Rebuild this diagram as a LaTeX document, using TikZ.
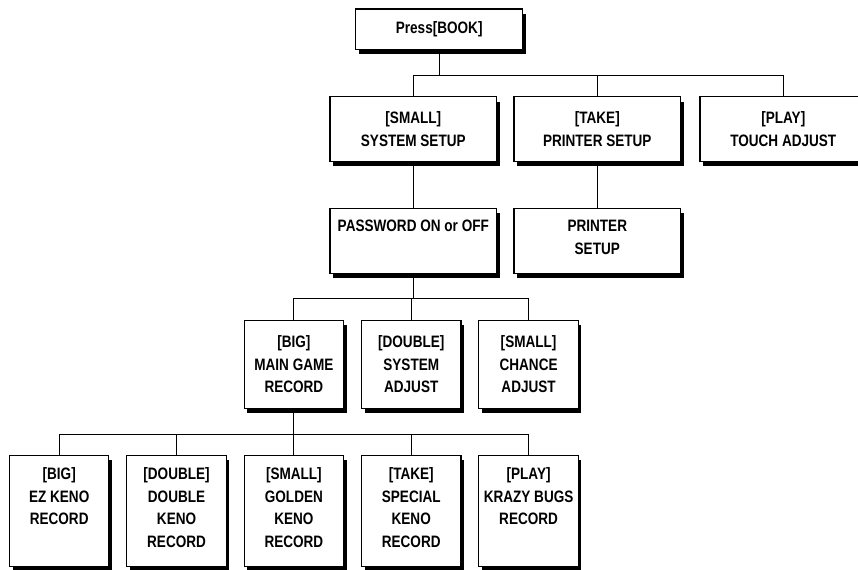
\documentclass[tikz,border=0pt]{standalone}
\usepackage{fontspec}
\newfontfamily\boxfont[FakeStretch=0.82]{Liberation Sans}
\usetikzlibrary{shadows}
\begin{document}
\begin{tikzpicture}[x=0.75pt,y=-0.75pt,
  box/.style={draw, line width=0.8pt, fill=white, outer sep=0pt, inner sep=0pt,
    align=center, font=\boxfont\bfseries\fontsize{12.4}{16.9}\selectfont,
    drop shadow={shadow xshift=2.3pt, shadow yshift=-3.6pt, opacity=1, fill=black}},
  topbox/.style={box, minimum width=125.25pt, minimum height=30.5pt},
  rowtwo/.style={box, minimum width=125pt, minimum height=48.2pt},
  rowthree/.style={box, minimum width=125pt, minimum height=48.75pt},
  rowfour/.style={box, minimum width=74.6pt, minimum height=66.2pt},
  rowfive/.style={box, minimum width=74.6pt, minimum height=83.8pt},
  link/.style={line width=0.8pt}]
\useasboundingbox (0,0) rectangle (858,569);

% nodes
\node[topbox] (press) at (439.2,29.3) {Press[BOOK]};

\node[rowtwo] (sys) at (413.3,128.9) {[SMALL]\\SYSTEM SETUP};
\node[rowtwo] (prt) at (597.3,128.9) {[TAKE]\\PRINTER SETUP};
\node[rowtwo] (tch) at (783.3,128.9) {[PLAY]\\TOUCH ADJUST};

\node[rowthree] (pw) at (413.3,240.8) {PASSWORD ON or OFF\\\strut};
\node[rowthree] (ps) at (597.3,240.8) {PRINTER\\SETUP\strut};

\node[rowfour] (mg) at (293.9,364.2) {[BIG]\\MAIN GAME\\RECORD};
\node[rowfour] (sa) at (411.25,364.2) {[DOUBLE]\\SYSTEM\\ADJUST};
\node[rowfour] (ca) at (528.6,364.2) {[SMALL]\\CHANCE\\ADJUST};

\node[rowfive] (ez) at (59.2,510.9) {[BIG]\\EZ KENO\\RECORD\\\strut};
\node[rowfive] (dk) at (176.55,510.9) {[DOUBLE]\\DOUBLE\\KENO\\RECORD\strut};
\node[rowfive] (gk) at (293.9,510.9) {[SMALL]\\GOLDEN\\KENO\\RECORD\strut};
\node[rowfive] (sk) at (411.25,510.9) {[TAKE]\\SPECIAL\\KENO\\RECORD\strut};
\node[rowfive] (kb) at (528.6,510.9) {[PLAY]\\KRAZY BUGS\\RECORD\\\strut};

% bus coordinates
\coordinate (h1) at (0,75.5);
\coordinate (h2) at (0,298.3);
\coordinate (h3) at (0,434.3);

% connectors
\draw[link] (press.south) -- (press.south |- h1);
\draw[link] (sys.north) -- (sys.north |- h1) -- (tch.north |- h1) -- (tch.north);
\draw[link] (prt.north) -- (prt.north |- h1);

\draw[link] (sys.south) -- (pw.north);
\draw[link] (prt.south) -- (ps.north);

\draw[link] (pw.south) -- (pw.south |- h2);
\draw[link] (mg.north) -- (mg.north |- h2) -- (ca.north |- h2) -- (ca.north);
\draw[link] (sa.north) -- (sa.north |- h2);

\draw[link] (mg.south) -- (mg.south |- h3);
\draw[link] (ez.north) -- (ez.north |- h3) -- (kb.north |- h3) -- (kb.north);
\draw[link] (dk.north) -- (dk.north |- h3);
\draw[link] (gk.north) -- (gk.north |- h3);
\draw[link] (sk.north) -- (sk.north |- h3);
\end{tikzpicture}
\end{document}
